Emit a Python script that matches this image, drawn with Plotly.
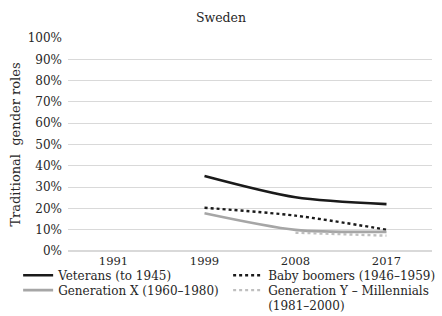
import plotly.graph_objects as go

years = ["1991", "1999", "2008", "2017"]
veterans = [None, 35.2, 25.2, 22.0]
boomers = [None, 20.3, 16.6, 10.0]
gen_x = [None, 17.7, 9.9, 9.0]
gen_y = [None, None, 8.6, 7.2]

names = ["Veterans (to 1945)", "Baby boomers (1946\u20131959)",
         "Generation X (1960\u20131980)", "Generation Y \u2013 Millennials<br>(1981\u20132000)"]
series = [veterans, boomers, gen_x, gen_y]
styles = [("#1a1a1a", "solid", 2.6), ("#1a1a1a", "dot", 2.4),
          ("#a6a6a6", "solid", 2.6), ("#bfbfbf", "dot", 2.4)]
legend_ids = ["legend", "legend", "legend2", "legend2"]

fig = go.Figure()
for nm, vals, (c, d, w), lg in zip(names, series, styles, legend_ids):
    fig.add_trace(go.Scatter(x=years, y=[v / 100 if v is not None else None for v in vals],
                             name=nm, mode="lines", legend=lg,
                             line=dict(color=c, dash=d, width=w, shape="spline", smoothing=0.8)))

FAM = "DejaVu Serif"
font = dict(family=FAM, size=12, color="#262626")
leg_common = dict(orientation="h", x=-0.137, xanchor="left",
                  entrywidth=165, entrywidthmode="pixels", traceorder="normal",
                  font=dict(family=FAM, size=12, color="#262626"), itemwidth=30, valign="top",
                  bgcolor="rgba(0,0,0,0)")
fig.update_layout(
    width=442, height=316,
    margin=dict(l=68, r=10, t=38, b=65, autoexpand=False),
    paper_bgcolor="white", plot_bgcolor="white",
    font=font,
    title=dict(text="Sweden", x=0.5, xref="container", y=0.943, yref="container",
               xanchor="center", yanchor="middle", font=dict(family=FAM, size=12.5)),
    xaxis=dict(type="category", range=[-0.5, 3.5], showgrid=False, showline=False,
               ticks="", ticklabelstandoff=1, tickfont=dict(family=FAM, size=11.5)),
    yaxis=dict(range=[0, 1.0], dtick=0.1, tickformat=".0%", showgrid=True,
               gridcolor="#d9d9d9", gridwidth=1, zeroline=True, zerolinecolor="#d9d9d9",
               ticks="", ticklabelstandoff=5, tickfont=dict(family=FAM, size=12),
               title=dict(text="Traditional\u00a0 gender roles", standoff=4,
                          font=dict(family=FAM, size=13))),
    legend=dict(leg_common, y=-0.115, yanchor="middle"),
    legend2=dict(leg_common, y=-0.222, yanchor="middle"),
    showlegend=True,
)

fig.write_html("out.html", config={"displayModeBar": False},
               post_script="document.body.style.margin='0';")
